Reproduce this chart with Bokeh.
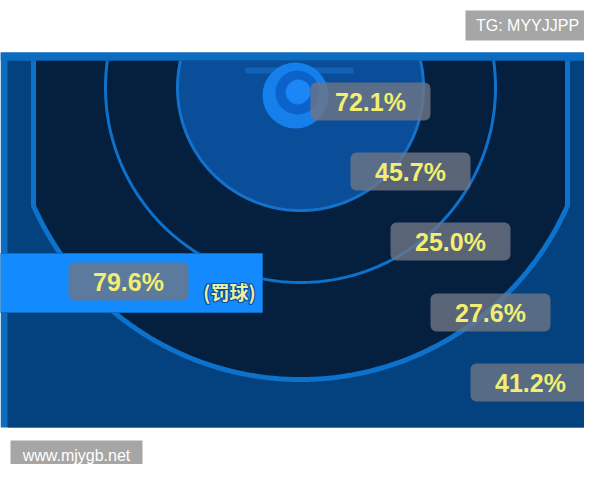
import numpy as np
from bokeh.plotting import figure
from bokeh.models import Range1d, ColumnDataSource
from bokeh.core.properties import value
from bokeh.embed import file_html
from bokeh.resources import INLINE

# ---- data ----
zones = ["篮下", "近距离", "中距离", "长两分", "三分", "罚球"]
pct = [72.1, 45.7, 25.0, 27.6, 41.2, 79.6]
pct_labels = [f"{v:.1f}%" for v in pct]
ft_note = ["(罚球)"]
watermark_top = ["TG: MYYJJPP"]
watermark_bottom = ["www.mjygb.net"]

# ---- layout (image pixel coordinates) ----
label_x = [370, 410, 450, 490, 530, 128]
label_y = [101, 171, 241, 312, 382, 281]
BOX_W, BOX_H = 120, 38
CX, CY = 300, 87
R_INNER, R_MID, R_THREE = 123, 195, 292
CORNER_L, CORNER_R = 33, 567
TOP = 60

p = figure(width=584, height=464, output_backend="svg", toolbar_location=None,
           x_range=Range1d(0, 584), y_range=Range1d(464, 0),
           min_border=0, background_fill_color="white", border_fill_color="white")
p.axis.visible = False
p.grid.visible = False
p.outline_line_color = None

LIGHT = "#0b6cc0"
MEDIUM = "#04417f"
NAVY = "#051f3e"
LINE = "#0d72cc"


def arc_below(r, n=240):
    t0 = np.arcsin((TOP - CY) / r)
    th = np.linspace(t0, np.pi - t0, n)
    return CX + r * np.cos(th), CY + r * np.sin(th)


# panel
p.quad(left=[0], right=[600], top=[52], bottom=[427], fill_color=LIGHT, line_color=None)
p.quad(left=[7], right=[591], top=[TOP], bottom=[427], fill_color=MEDIUM, line_color=None)

# three point area
dy = np.sqrt(R_THREE**2 - (CX - CORNER_L)**2)
a1 = np.arctan2(dy, CORNER_L - CX)
a2 = np.arctan2(dy, CORNER_R - CX)
th = np.linspace(a1, a2, 240)
arc_x = CX + R_THREE * np.cos(th)
arc_y = CY + R_THREE * np.sin(th)
poly_x = np.concatenate([[CORNER_L], arc_x, [CORNER_R]])
poly_y = np.concatenate([[TOP], arc_y, [TOP]])
p.patch(poly_x, poly_y, fill_color=NAVY, line_color=None)
p.line(poly_x, poly_y, line_color=LINE, line_width=5)

# middle ring
mx, my = arc_below(R_MID)
p.line(mx, my, line_color=LINE, line_width=3)
# inner zone
ix, iy = arc_below(R_INNER)
p.patch(ix, iy, fill_color="#0a4d98", line_color=None)
p.line(ix, iy, line_color="#1373cc", line_width=3)

# top band
p.quad(left=[0], right=[600], top=[52], bottom=[TOP], fill_color=LIGHT, line_color=None)

# backboard and hoop
p.quad(left=[245], right=[353], top=[67], bottom=[73], fill_color="#1262b5", line_color=None)
p.circle(x=[295], y=[95], radius=33, fill_color="#157fec", line_color=None)
p.annulus(x=[297], y=[92], inner_radius=12, outer_radius=22, fill_color="#0c62c8", line_color=None)
p.circle(x=[298], y=[91], radius=12, fill_color="#1a86f8", line_color=None)

# free throw bar
p.quad(left=[0], right=[262], top=[253], bottom=[312], fill_color="#138bff", line_color="#0b6cc0", line_width=1)

# labels
src = ColumnDataSource(dict(
    zone=zones, pct=pct, label=pct_labels, x=label_x, y=label_y,
    left=[x - BOX_W / 2 for x in label_x], right=[x + BOX_W / 2 for x in label_x],
    top=[y - BOX_H / 2 for y in label_y], bottom=[y + BOX_H / 2 for y in label_y],
))
p.quad(left="left", right="right", top="top", bottom="bottom", source=src,
       fill_color="#6e7686", fill_alpha=0.8, line_color=None, border_radius=6)
p.text(x="x", y="y", text="label", source=src, text_align="center", text_baseline="middle",
       text_font=value("Liberation Sans"), text_font_size="25px", text_font_style="bold",
       text_color="#f2ee72")

# (罚球) with outline
for ox, oy in [(-1, 0), (1, 0), (0, -1), (0, 1), (-1, -1), (1, 1), (-1, 1), (1, -1)]:
    p.text(x=[229 + ox], y=[291 + oy], text=ft_note, text_align="center", text_baseline="middle",
           text_font=value("Noto Sans CJK SC"), text_font_size="19px", text_font_style="bold",
           text_color="#0d4f9e")
p.text(x=[229], y=[291], text=ft_note, text_align="center", text_baseline="middle",
       text_font=value("Noto Sans CJK SC"), text_font_size="19px", text_font_style="bold",
       text_color="#e9f3a0")

# watermarks
p.quad(left=[465], right=[590], top=[10], bottom=[40], fill_color="#a6a6a6", line_color=None)
p.text(x=[527], y=[25], text=watermark_top, text_align="center", text_baseline="middle",
       text_font=value("Liberation Sans"), text_font_size="16px", text_color="white")
p.quad(left=[10], right=[142], top=[440], bottom=[470], fill_color="#a6a6a6", line_color=None)
p.text(x=[76], y=[455], text=watermark_bottom, text_align="center", text_baseline="middle",
       text_font=value("Liberation Sans"), text_font_size="16px", text_color="white")

open("out.html", "w").write(file_html(p, INLINE))
